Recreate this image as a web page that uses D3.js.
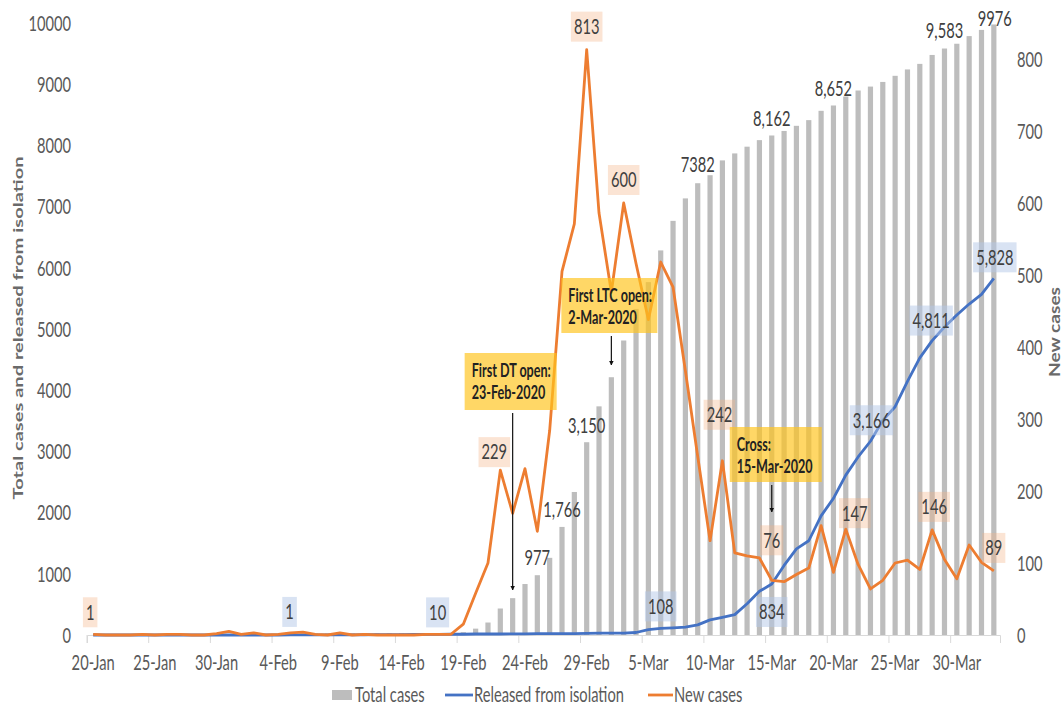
<!DOCTYPE html>
<html>
<head>
<meta charset="utf-8">
<script src="https://cdn.jsdelivr.net/npm/d3@7"></script>
<style>
body { margin: 0; background: #fff; }
text { font-family: Lato, "Open Sans", sans-serif; }
</style>
</head>
<body>
<svg id="chart" width="1063" height="714"></svg>
<script>
// daily series, 20-Jan-2020 .. 2-Apr-2020
var startDay = new Date(2020, 0, 20);
var endDay = new Date(2020, 3, 3);
var days = d3.timeDay.range(startDay, endDay);

var totalCases = [
  1, 1, 1, 1, 2, 2, 3, 4, 4, 4, 6, 11,
  12, 15, 15, 16, 19, 23, 24, 24, 27, 27, 28, 28, 28, 28, 28, 29, 30, 31, 46, 104, 204, 433, 602, 833, 977, 1261, 1766, 2337, 3150,
  3736, 4212, 4812, 5328, 5766, 6284, 6767, 7134, 7382, 7513, 7755, 7869, 7979, 8086, 8162, 8236, 8320, 8413, 8565, 8652, 8799, 8897, 8961, 9037, 9137, 9241, 9332, 9478, 9583, 9661, 9786,
  9887, 9976
];
var released = [
  0, 0, 0, 0, 0, 0, 0, 0, 0, 0, 0, 0,
  0, 0, 0, 0, 1, 2, 2, 2, 3, 3, 4, 7, 7, 7, 9, 9, 10, 12, 12, 16, 16, 16, 18, 18, 22, 22, 22, 22, 27,
  30, 30, 30, 41, 88, 108, 118, 130, 166, 247, 288, 333, 510, 714, 834, 1137, 1407, 1540, 1947, 2233, 2612, 2909, 3166, 3507, 3730, 4144, 4528, 4811, 5033, 5228, 5408,
  5567, 5828
];
var newCases = [
  1, 0, 0, 0, 1, 0, 1, 1, 0, 0, 2, 5,
  1, 3, 0, 1, 3, 4, 1, 0, 3, 0, 1, 0, 0, 0, 0, 1, 1, 1, 15, 58, 100, 229, 169, 231, 144, 284, 505, 571, 813,
  586, 476, 600, 516, 438, 518, 483, 367, 248, 131, 242, 114, 110, 107, 76, 74, 84, 93, 152, 87, 147, 98, 64, 76, 100, 104, 91, 146, 105, 78, 125,
  101, 89
];

var leftTicks = [0, 1000, 2000, 3000, 4000, 5000, 6000, 7000, 8000, 9000, 10000];
var rightTicks = [0, 100, 200, 300, 400, 500, 600, 700, 800];

// which points carry a data label
var totalLabelDays = ['2020-02-25', '2020-02-27', '2020-02-29', '2020-03-09', '2020-03-15', '2020-03-20', '2020-03-29', '2020-04-02'];
var totalLabelComma = [true, true, true, false, true, true, true, false];
var releasedLabelDays = ['2020-02-05', '2020-02-17', '2020-03-06', '2020-03-15', '2020-03-23', '2020-03-28', '2020-04-02'];
var newLabelDays = ['2020-01-20', '2020-02-22', '2020-02-29', '2020-03-03', '2020-03-11', '2020-03-15', '2020-03-21', '2020-03-28', '2020-04-02'];

var notes = [
  { day: '2020-02-23', lines: ['First DT open:', '23-Feb-2020'] },
  { day: '2020-03-02', lines: ['First LTC open:', '2-Mar-2020'] },
  { day: '2020-03-15', lines: ['Cross:', '15-Mar-2020'] }
];

// label placement (offsets from the point, px)
var totalLabelOffset = [[0, -18], [0, -17], [0, -17], [0, -19], [0, -17], [0, -17], [0, -18], [1, -6]];
var releasedLabelOffset = [[-1, -23], [-1, -22], [0, -22], [0, 28], [1, -21], [-1, -20], [1, -21]];
var newLabelOffset = [[-3, -22], [-6, -18], [0, -23], [0, -23], [-3, -46], [0, -40], [9, -16], [2, -23], [0, -23]];
var noteLayout = [
  { dx: -48, top: 353, w: 92, h: 57, arrowTo: 590 },
  { dx: -50, top: 278, w: 96, h: 55, arrowTo: 365 },
  { dx: -42, top: 427, w: 92, h: 55, arrowTo: 512 }
];

var SX = 0.7;
var FS = '21px';
var parseDay = d3.timeParse('%Y-%m-%d');
function dayIndex(s) { return d3.timeDay.count(startDay, parseDay(s)); }

var svg = d3.select('#chart');

var x = d3.scaleBand()
  .domain(d3.range(days.length))
  .range([87, 1000])
  .padding(0);
var bw = x.bandwidth();
function xc(i) { return x(i) + bw / 2; }

var y = d3.scaleLinear().domain([0, 10000]).range([635, 23]);
var y2 = d3.scaleLinear().domain([0, 800]).range([635, 59]);

// bars
svg.append('g').selectAll('rect')
  .data(totalCases)
  .enter().append('rect')
  .attr('x', function (d, i) { return xc(i) - 2.6; })
  .attr('width', 5.2)
  .attr('y', function (d) { return y(d); })
  .attr('height', function (d) { return 635 - y(d); })
  .attr('fill', '#bdbdbd');

// x axis
var xAxis = svg.append('g')
  .attr('transform', 'translate(0,635)')
  .call(d3.axisBottom(x)
    .tickValues(d3.range(0, days.length, 5))
    .tickSizeOuter(0)
    .tickSize(8)
    .tickFormat(function (i) { return d3.timeFormat('%-d-%b')(days[i]); }));
xAxis.attr('font-size', null).attr('font-family', null);
xAxis.select('.domain').attr('stroke', '#d9d9d9');
xAxis.selectAll('.tick line').attr('stroke', '#d9d9d9').attr('x1', -bw / 2).attr('x2', -bw / 2);
xAxis.selectAll('.tick text')
  .attr('x', 0).attr('y', 28).attr('dy', '0.35em')
  .attr('transform', 'scale(' + SX + ',1)')
  .style('font-size', FS).style('fill', '#595959');

// left axis
var yAxis = svg.append('g')
  .attr('transform', 'translate(87,0)')
  .call(d3.axisLeft(y).tickValues(leftTicks).tickSize(0).tickFormat(d3.format('d')));
yAxis.attr('font-size', null).attr('font-family', null);
yAxis.select('.domain').remove();
yAxis.selectAll('text')
  .attr('x', 0).attr('dy', '0.35em')
  .attr('transform', 'translate(-16,0) scale(' + SX + ',1)')
  .style('font-size', FS).style('fill', '#595959');

// right axis
var y2Axis = svg.append('g')
  .attr('transform', 'translate(1000,0)')
  .call(d3.axisRight(y2).tickValues(rightTicks).tickSize(0));
y2Axis.attr('font-size', null).attr('font-family', null);
y2Axis.select('.domain').remove();
y2Axis.selectAll('text')
  .attr('x', 0).attr('dy', '0.35em')
  .attr('transform', 'translate(17,0) scale(' + SX + ',1)')
  .style('font-size', FS).style('fill', '#595959');

// axis titles
svg.append('text')
  .attr('transform', 'translate(18,328) rotate(-90) scale(1,0.75)')
  .attr('text-anchor', 'middle').attr('dy', '0.35em')
  .attr('textLength', 343).attr('lengthAdjust', 'spacingAndGlyphs')
  .style('font-size', '18px').style('font-weight', 'bold').style('fill', '#6a6a6a')
  .text('Total cases and released from isolation');
svg.append('text')
  .attr('transform', 'translate(1055,332) rotate(-90) scale(1,0.75)')
  .attr('text-anchor', 'middle').attr('dy', '0.35em')
  .attr('textLength', 90).attr('lengthAdjust', 'spacingAndGlyphs')
  .style('font-size', '19px').style('font-weight', 'bold').style('fill', '#6a6a6a')
  .text('New cases');

// lines
var blueLine = d3.line().x(function (d, i) { return xc(i); }).y(function (d) { return y(d); });
var orangeLine = d3.line().x(function (d, i) { return xc(i); }).y(function (d) { return y2(d); });

svg.append('path').datum(released)
  .attr('d', blueLine)
  .attr('fill', 'none').attr('stroke', '#4472c4').attr('stroke-width', 2.8)
  .attr('stroke-linejoin', 'round');
svg.append('path').datum(newCases)
  .attr('d', orangeLine)
  .attr('fill', 'none').attr('stroke', '#ed7d31').attr('stroke-width', 2.8)
  .attr('stroke-linejoin', 'round');

// text helper: squeezed text with optional box behind it
function label(px, py, s, bg) {
  var g = svg.append('g').attr('transform', 'translate(' + px + ',' + py + ')');
  var t = g.append('text')
    .attr('transform', 'scale(' + SX + ',1)')
    .attr('text-anchor', 'middle').attr('dy', '0.35em')
    .style('font-size', FS).style('fill', '#404040')
    .text(s);
  if (bg) {
    var b = t.node().getBBox();
    g.insert('rect', 'text')
      .attr('x', b.x * SX - 3).attr('width', b.width * SX + 6)
      .attr('y', -15).attr('height', 30)
      .attr('fill', bg);
  }
  return g;
}

var fmt = d3.format(',');

totalLabelDays.forEach(function (s, k) {
  var i = dayIndex(s), o = totalLabelOffset[k];
  var v = totalCases[i];
  label(xc(i) + o[0], y(v) + o[1], totalLabelComma[k] ? fmt(v) : String(v), null);
});
releasedLabelDays.forEach(function (s, k) {
  var i = dayIndex(s), o = releasedLabelOffset[k];
  var v = released[i];
  label(xc(i) + o[0], y(v) + o[1], fmt(v), 'rgba(180,199,231,0.5)');
});
newLabelDays.forEach(function (s, k) {
  var i = dayIndex(s), o = newLabelOffset[k];
  var v = newCases[i];
  label(xc(i) + o[0], y2(v) + o[1], fmt(v), 'rgba(244,177,131,0.35)');
});

// annotations
svg.append('defs').append('marker')
  .attr('id', 'arrow').attr('viewBox', '0 0 10 10')
  .attr('refX', 9).attr('refY', 5)
  .attr('markerWidth', 4).attr('markerHeight', 5)
  .attr('orient', 'auto')
  .append('path').attr('d', 'M0,0 L10,5 L0,10 z').attr('fill', '#111');

notes.forEach(function (n, k) {
  var L = noteLayout[k];
  var ax = xc(dayIndex(n.day));
  var left = ax + L.dx;
  svg.append('line')
    .attr('x1', ax).attr('x2', ax)
    .attr('y1', L.top + L.h + 3).attr('y2', L.arrowTo)
    .attr('stroke', '#111').attr('stroke-width', 1.2)
    .attr('marker-end', 'url(#arrow)');
  svg.append('rect')
    .attr('x', left).attr('y', L.top)
    .attr('width', L.w).attr('height', L.h)
    .attr('fill', 'rgba(255,196,30,0.68)');
  n.lines.forEach(function (line, j) {
    svg.append('g')
      .attr('transform', 'translate(' + (left + 7) + ',' + (L.top + 18 + j * 22) + ')')
      .append('text')
      .attr('transform', 'scale(' + SX + ',1)')
      .attr('dy', '0.35em')
      .style('font-size', '18px').style('font-weight', 'bold').style('fill', '#222')
      .text(line);
  });
});

// legend
var lg = svg.append('g').attr('transform', 'translate(0,695)');
lg.append('rect').attr('x', 332).attr('y', -5).attr('width', 20).attr('height', 10).attr('fill', '#bdbdbd');
lg.append('line').attr('x1', 445).attr('x2', 473).attr('stroke', '#4472c4').attr('stroke-width', 2.8);
lg.append('line').attr('x1', 648).attr('x2', 673).attr('stroke', '#ed7d31').attr('stroke-width', 2.8);
[[355, 'Total cases'], [474, 'Released from isolation'], [674, 'New cases']].forEach(function (d) {
  lg.append('g').attr('transform', 'translate(' + d[0] + ',0)')
    .append('text')
    .attr('transform', 'scale(' + SX + ',1)')
    .attr('dy', '0.35em')
    .style('font-size', FS).style('fill', '#595959')
    .text(d[1]);
});
</script>
</body>
</html>
